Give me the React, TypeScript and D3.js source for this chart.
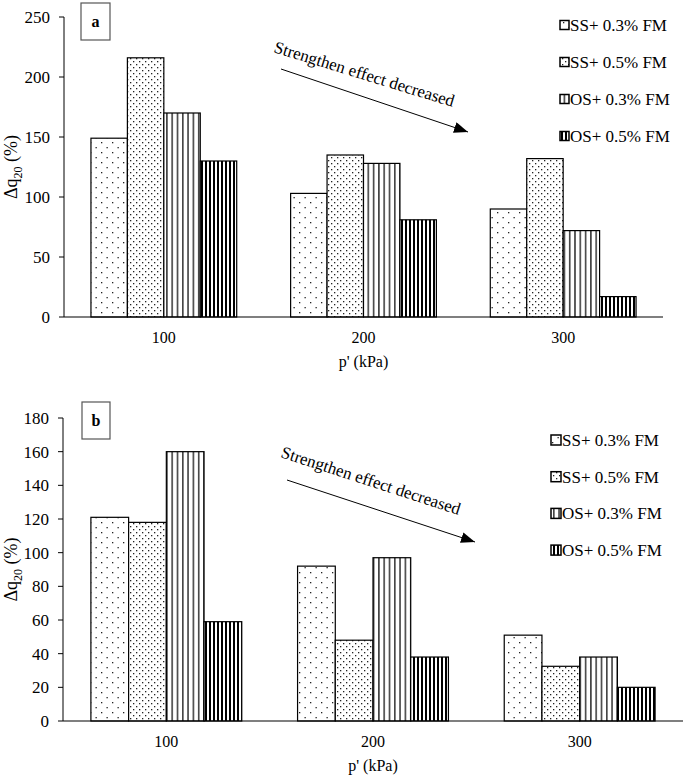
import React from "react";
import * as d3 from "d3";

const categories = ["100", "200", "300"];
const seriesNames = ["SS+ 0.3% FM", "SS+ 0.5% FM", "OS+ 0.3% FM", "OS+ 0.5% FM"];
const patternIds = ["pSparse", "pDense", "pVert", "pVertDark"];

// Panel a
const ss03A = [149, 103, 90];
const ss05A = [216, 135, 132];
const os03A = [170, 128, 72];
const os05A = [130, 81, 17];
const ticksA = [0, 50, 100, 150, 200, 250];

// Panel b
const ss03B = [121, 92, 51];
const ss05B = [118, 48, 32.5];
const os03B = [160, 97, 38];
const os05B = [59, 38, 20];
const ticksB = [0, 20, 40, 60, 80, 100, 120, 140, 160, 180];

const FONT = "Liberation Serif";

type PanelProps = {
  label: string;
  series: number[][];
  ticks: number[];
  x0: number; x1: number; yZero: number; yTop: number;
  boxX: number; boxY: number; boxW: number; boxH: number;
  legendX: number; legendY: number; legendStep: number; legendSq: number; legendTextX: number;
  annX: number; annY: number; annAngle: number;
  arrow: [number, number, number, number];
};

function Panel(p: PanelProps) {
  const yMax = p.ticks[p.ticks.length - 1];
  const x = d3.scaleBand<string>().domain(categories).range([p.x0, p.x1]).paddingInner(0.27).paddingOuter(0.135);
  const xs = d3.scaleBand<string>().domain(seriesNames).range([0, x.bandwidth()]).padding(0);
  const y = d3.scaleLinear().domain([0, yMax]).range([p.yZero, p.yTop]);
  const midX = (p.x0 + p.x1) / 2;
  const midY = (p.yZero + p.yTop) / 2;
  return (
    <g>
      {categories.map((c, ci) =>
        seriesNames.map((s, si) => {
          const v = p.series[si][ci];
          return (
            <rect key={c + s}
              x={(x(c) as number) + (xs(s) as number)}
              y={y(v)}
              width={xs.bandwidth()}
              height={y(0) - y(v)}
              fill={`url(#${patternIds[si]})`}
              stroke="#000" strokeWidth={1.2} />
          );
        })
      )}
      <line x1={p.x0} x2={p.x0} y1={y(0)} y2={y(yMax)} stroke="#000" strokeWidth={1} />
      <line x1={p.x0} x2={p.x1} y1={y(0)} y2={y(0)} stroke="#000" strokeWidth={1.2} />
      {p.ticks.map((t) => (
        <g key={t}>
          <line x1={p.x0 - 5} x2={p.x0} y1={y(t)} y2={y(t)} stroke="#000" />
          <text x={p.x0 - 14} y={y(t)} dy="0.35em" textAnchor="end" fontFamily={FONT} fontSize={17}>{t}</text>
        </g>
      ))}
      {categories.map((c) => (
        <text key={c} x={(x(c) as number) + x.bandwidth() / 2} y={p.yZero + 26} textAnchor="middle" fontFamily={FONT} fontSize={16}>{c}</text>
      ))}
      <text x={midX} y={p.yZero + 50} textAnchor="middle" fontFamily={FONT} fontSize={16}>p' (kPa)</text>
      <text transform={`translate(17,${midY}) rotate(-90)`} textAnchor="middle" fontFamily={FONT} fontSize={18}>
        <tspan>Δq</tspan><tspan dy={5} fontSize={12}>20</tspan><tspan dy={-5}> (%)</tspan>
      </text>
      <rect x={p.boxX} y={p.boxY} width={p.boxW} height={p.boxH} fill="#fff" stroke="#555" strokeWidth={1.2} />
      <text x={p.boxX + p.boxW / 2} y={p.boxY + p.boxH / 2} dy="0.35em" textAnchor="middle" fontFamily={FONT} fontWeight="bold" fontSize={16}>{p.label}</text>
      {seriesNames.map((s, i) => {
        const cy = p.legendY + i * p.legendStep;
        return (
          <g key={s}>
            <rect x={p.legendX} y={cy - p.legendSq / 2} width={p.legendSq} height={p.legendSq} fill={`url(#${patternIds[i]})`} stroke="#000" strokeWidth={1.5} />
            <text x={p.legendTextX} y={cy} dy="0.35em" fontFamily={FONT} fontSize={17}>{s}</text>
          </g>
        );
      })}
      <text transform={`translate(${p.annX},${p.annY}) rotate(${p.annAngle})`} fontFamily={FONT} fontSize={17}>Strengthen effect decreased</text>
      <line x1={p.arrow[0]} y1={p.arrow[1]} x2={p.arrow[2]} y2={p.arrow[3]} stroke="#000" strokeWidth={1} markerEnd="url(#arrowHead)" />
    </g>
  );
}

export default function App() {
  return (
    <svg width={685} height={777} style={{ position: "absolute", left: 0, top: 0, background: "#fff" }}>
      <defs>
        <pattern id="pSparse" patternUnits="userSpaceOnUse" width={11} height={10}>
          <rect width={11} height={10} fill="#fff" />
          <rect x={2} y={2} width={1.3} height={1.3} fill="#222" />
          <rect x={7.5} y={7} width={1.3} height={1.3} fill="#222" />
        </pattern>
        <pattern id="pDense" patternUnits="userSpaceOnUse" width={6} height={6}>
          <rect width={6} height={6} fill="#fff" />
          <rect x={1} y={1} width={1.3} height={1.3} fill="#222" />
          <rect x={4} y={4} width={1.3} height={1.3} fill="#222" />
        </pattern>
        <pattern id="pVert" patternUnits="userSpaceOnUse" width={5.3} height={10}>
          <rect width={5.3} height={10} fill="#fff" />
          <rect x={2} y={0} width={1.2} height={10} fill="#000" />
        </pattern>
        <pattern id="pVertDark" patternUnits="userSpaceOnUse" width={4} height={10}>
          <rect width={4} height={10} fill="#fff" />
          <rect x={1} y={0} width={2} height={10} fill="#000" />
        </pattern>
        <marker id="arrowHead" markerUnits="userSpaceOnUse" markerWidth={16} markerHeight={12} refX={14} refY={5.5} orient="auto">
          <path d="M0,0 L14,5.5 L0,11 Z" fill="#000" />
        </marker>
      </defs>
      <Panel label="a" series={[ss03A, ss05A, os03A, os05A]} ticks={ticksA}
        x0={64} x1={663} yZero={317} yTop={17}
        boxX={81} boxY={3} boxW={29} boxH={37}
        legendX={560} legendY={25} legendStep={37} legendSq={9} legendTextX={570}
        annX={273} annY={52} annAngle={17}
        arrow={[281, 69, 468, 132]} />
      <Panel label="b" series={[ss03B, ss05B, os03B, os05B]} ticks={ticksB}
        x0={63} x1={683} yZero={721} yTop={418}
        boxX={82} boxY={402} boxW={28} boxH={37}
        legendX={551} legendY={440} legendStep={36.7} legendSq={10} legendTextX={562}
        annX={280} annY={457} annAngle={18}
        arrow={[287, 480, 475, 542]} />
    </svg>
  );
}
